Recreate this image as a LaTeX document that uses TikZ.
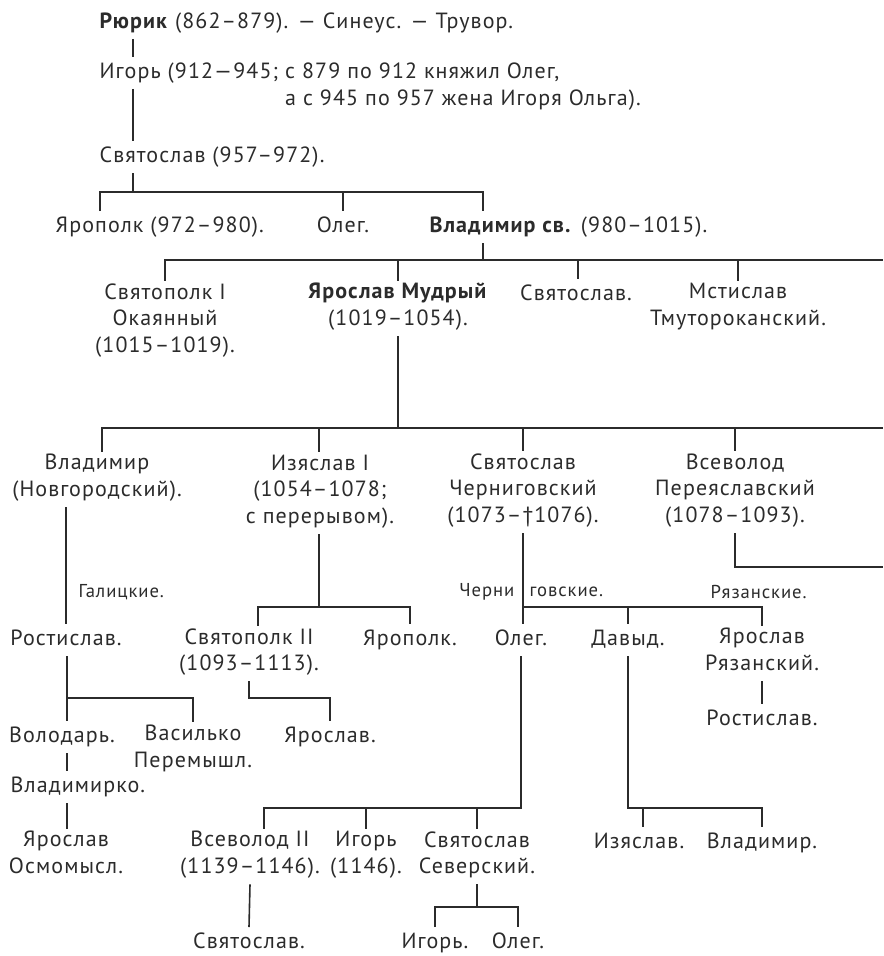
\documentclass[tikz,border=0pt]{standalone}
\usepackage{fontspec}
\setmainfont[LetterSpace=5]{PT Sans}
\definecolor{ink}{HTML}{2B2B2B}
\tikzset{
  person/.style={inner sep=0pt, outer sep=2pt, align=center, text=ink,
    font=\fontsize{16.5}{20}\selectfont,
    execute at begin node=\strut, execute at end node=\strut},
  branch/.style={inner sep=0pt, outer sep=2pt, text=ink,
    font=\fontsize{14}{16}\selectfont},
  kin/.style={draw=ink, line width=1.2pt}
}

\begin{document}
\begin{tikzpicture}[x=0.75pt, y=-0.75pt]
\useasboundingbox (0,0) rectangle (883,956);
\coordinate (edge) at (883,0);
\coordinate (bar1) at (0,192);
\coordinate (bar2) at (0,260);
\coordinate (bar3) at (0,428);
\coordinate (bar4) at (0,607);
\coordinate (bar5) at (0,607);
\coordinate (bar6) at (0,698);
\coordinate (bar7) at (0,808);
\coordinate (bar8) at (0,907);

\begin{scope}[every node/.style=person]
  \node[anchor=west] (rurik) at (97,23) {\textbf{Рюрик} (862–879). — Синеус. — Трувор.};
  \node[anchor=west] (igor) at (97,73) {Игорь (912—945; с 879 по 912 княжил Олег,};
  \node[anchor=west] (igorcont) at (97,100) {\phantom{Игорь (912—945; }а с 945 по 957 жена Игоря Ольга).};
  \node[anchor=west] (svyat1) at (97,157) {Святослав (957–972).};
  \node[anchor=west] (yaropolk) at (53,227) {Ярополк (972–980).};
  \node (oleg1) at (343,227) {Олег.};
  \node[anchor=west] (vladimir) at (427,227) {\textbf{Владимир св.} (980–1015).};

  \node (svyatopolk) at (165,322) {Святополк I\\Окаянный\\(1015–1019).};
  \node (yaroslav) at (398,308.5) {\textbf{Ярослав Мудрый}\\(1019–1054).};
  \node (svyat2) at (576,295) {Святослав.};
  \node (mstislav) at (738,308.5) {Мстислав\\Тмутороканский.};

  \node (vladnov) at (97,479.5) {Владимир\\(Новгородский).};
  \node (izyaslav) at (320,493) {Изяслав I\\(1054–1078;\\с перерывом).};
  \node (svyatcher) at (523,492) {Святослав\\Черниговский\\(1073–†1076).};
  \node (vsevolod) at (735,492) {Всеволод\\Переяславский\\(1078–1093).};

  \node (rostislav1) at (66,640) {Ростислав.};
  \node (svyatopolk2) at (249,653.5) {Святополк II\\(1093–1113).};
  \node (yaropolk2) at (410,640) {Ярополк.};
  \node (oleg2) at (521,640) {Олег.};
  \node (davyd) at (628,640) {Давыд.};
  \node (yaroslavr) at (762,653.5) {Ярослав\\Рязанский.};
  \node (rostislavr) at (762,720) {Ростислав.};

  \node (volodar) at (62,737) {Володарь.};
  \node (vasilko) at (193,750) {Василько\\Перемышл.};
  \node (yaroslav2) at (330,737) {Ярослав.};
  \node[anchor=west] (vladimirko) at (8,787) {Владимирко.};

  \node (yaroslavo) at (66,856.5) {Ярослав\\Осмомысл.};
  \node (vsevolod2) at (250,856.5) {Всеволод II\\(1139–1146).};
  \node (igor2) at (366,856.5) {Игорь\\(1146).};
  \node (svyatsev) at (477,856.5) {Святослав\\Северский.};
  \node (izyaslav2) at (639,843) {Изяслав.};
  \node (vladimir2) at (762,843) {Владимир.};

  \node (svyat3) at (249,943) {Святослав.};
  \node (igor3) at (435,943) {Игорь.};
  \node (oleg3) at (518,943) {Олег.};
\end{scope}

\begin{scope}[every node/.style=branch]
  \node[anchor=west] (galician) at (76,592) {Галицкие.};
  \node[anchor=east] (chern1) at (517,592) {Черни};
  \node[anchor=west] (chern2) at (527,592) {говские.};
  \node[anchor=west] (ryazan) at (708,592) {Рязанские.};
\end{scope}

\begin{scope}[kin]
  \draw (rurik.south -| 133,0) -- (igor.north -| 133,0);
  \draw (igor.south -| 133,0) -- (svyat1.north -| 133,0);
  \draw (svyat1.south -| 133,0) -- (bar1 -| 133,0);
  \draw (yaropolk.north -| 100,0) |- (bar1 -| 483,0) -- (vladimir.north -| 483,0);
  \draw (bar1 -| oleg1) -- (oleg1.north);

  \draw (vladimir.south -| 483,0) -- (bar2 -| 483,0);
  \draw (svyatopolk.north) |- (bar2 -| edge);
  \draw (bar2 -| yaroslav) -- (yaroslav.north);
  \draw (bar2 -| 578,0) -- (svyat2.north -| 578,0);
  \draw (bar2 -| mstislav) -- (mstislav.north);

  \draw (yaroslav.south) -- (bar3 -| yaroslav);
  \draw (vladnov.north -| 102,0) |- (bar3 -| edge);
  \draw (bar3 -| 319,0) -- (izyaslav.north -| 319,0);
  \draw (bar3 -| svyatcher) -- (svyatcher.north);
  \draw (bar3 -| vsevolod) -- (vsevolod.north);

  \draw (vladnov.south -| 66,0) -- (rostislav1.north -| 66,0);
  \draw (rostislav1.south -| 67,0) -- (volodar.north -| 67,0);
  \draw (bar6 -| 67,0) -| (vasilko.north);
  \draw (volodar.south -| 67,0) -- (vladimirko.north -| 67,0);
  \draw (vladimirko.south -| 67,0) -- (yaroslavo.north -| 67,0);

  \draw (izyaslav.south -| 319,0) -- (bar4 -| 319,0);
  \draw (svyatopolk2.north -| 258,0) |- (bar4 -| yaropolk2) -- (yaropolk2.north);
  \draw (svyatopolk2.south) |- (bar6 -| yaroslav2) -- (yaroslav2.north);

  \draw (svyatcher.south) -- (oleg2.north -| svyatcher);
  \draw (bar5 -| svyatcher) -| (yaroslavr.north);
  \draw (bar5 -| davyd) -- (davyd.north);
  \draw (yaroslavr.south) -- (rostislavr.north);
  \draw (vsevolod.south) |- (edge |- 0,567);

  \draw (oleg2.south) |- (bar7 -| 264,0) -- (vsevolod2.north -| 264,0);
  \draw (bar7 -| igor2) -- (igor2.north);
  \draw (bar7 -| svyatsev) -- (svyatsev.north);
  \draw (davyd.south) |- (bar7 -| vladimir2) -- (vladimir2.north);
  \draw (bar7 -| 643,0) -- (izyaslav2.north -| 643,0);

  \draw (vsevolod2.south) -- (svyat3.north);
  \draw (svyatsev.south) -- (bar8 -| svyatsev);
  \draw (igor3.north) |- (bar8 -| oleg3) -- (oleg3.north);
\end{scope}
\end{tikzpicture}
\end{document}
